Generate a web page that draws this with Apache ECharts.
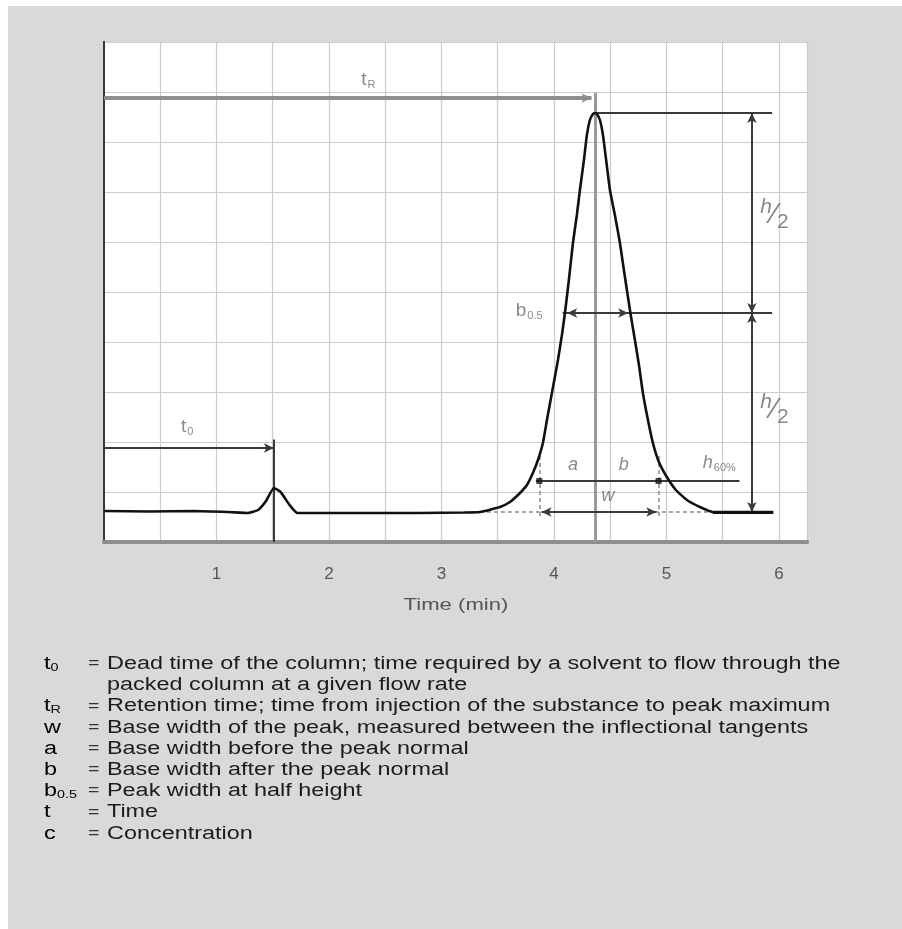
<!DOCTYPE html>
<html>
<head>
<meta charset="utf-8">
<title>Chromatogram parameters</title>
<script src="https://cdn.jsdelivr.net/npm/echarts@6.0.0/dist/echarts.min.js"></script>
<style>
  html, body { margin: 0; padding: 0; background: #ffffff; }
  #chart { width: 902px; height: 929px; }
</style>
</head>
<body>
<div id="chart"></div>
<script>
// Detector trace: time (min) and signal (arbitrary units)
const traceTime   = [0.00, 0.40, 0.80, 1.10, 1.28, 1.37, 1.44, 1.51, 1.57, 1.65, 1.72, 2.20, 2.80, 3.20,
                     3.342, 3.520, 3.609, 3.698, 3.760, 3.813, 3.858, 3.902, 3.938, 3.982, 4.036, 4.071, 4.098,
                     4.133, 4.169, 4.204, 4.231, 4.267, 4.293, 4.320, 4.347, 4.364, 4.382, 4.409, 4.436, 4.462,
                     4.498, 4.542, 4.587, 4.622, 4.680, 4.720, 4.756, 4.791, 4.836, 4.880, 4.933, 5.004, 5.084,
                     5.182, 5.298, 5.413, 5.95];
const traceSignal = [0.62, 0.61, 0.62, 0.60, 0.58, 0.64, 0.82, 1.08, 1.00, 0.74, 0.58, 0.58, 0.58, 0.59,
                     0.60, 0.70, 0.80, 0.98, 1.14, 1.38, 1.64, 1.98, 2.44, 2.98, 3.64, 4.14, 4.58,
                     5.24, 5.98, 6.54, 7.04, 7.64, 8.14, 8.44, 8.56, 8.58, 8.56, 8.44, 8.14, 7.68,
                     7.04, 6.54, 5.98, 5.44, 4.58, 4.04, 3.54, 2.98, 2.44, 1.98, 1.60, 1.30, 1.04,
                     0.84, 0.70, 0.60, 0.60];
const xTickValues = [1, 2, 3, 4, 5, 6];
const xAxisTitle = 'Time (min)';

// Characteristic times and levels of the peak
const deadTime = 1.51;          // t0
const retentionTime = 4.364;    // tR
const baseLevel = 0.60;
const peakLevel = 8.58;
const halfLevel = 4.58;         // baseline + h/2
const halfWidth = [4.098, 4.68]; // b0.5
const tangentLevel = 1.22;      // h 60%
const tangentPoints = [3.87, 4.93];
const peakFoot = [3.342, 5.413];

// Legend rows: symbol, subscript, explanation lines
const legendSymbols = ['t', 't', 'w', 'a', 'b', 'b', 't', 'c'];
const legendSubs    = ['0', 'R', '', '', '', '0.5', '', ''];
const legendTexts   = [
  ['Dead time of the column; time required by a solvent to flow through the', 'packed column at a given flow rate'],
  ['Retention time; time from injection of the substance to peak maximum'],
  ['Base width of the peak, measured between the inflectional tangents'],
  ['Base width before the peak normal'],
  ['Base width after the peak normal'],
  ['Peak width at half height'],
  ['Time'],
  ['Concentration']
];

const FONT = '"Liberation Sans", Arial, Helvetica, sans-serif';
const annoGrey = '#6b6b6b';
const dark = '#2a2a2a';
const WIDE = 1.3;   // horizontal stretch of the printed lettering

const labelRich = {
  t:   { fontFamily: FONT, fontSize: 19, color: annoGrey },
  i:   { fontFamily: FONT, fontSize: 18, fontStyle: 'italic', color: annoGrey },
  sub: { fontFamily: FONT, fontSize: 11, color: annoGrey, padding: [10, 0, 0, 1] },
  sup: { fontFamily: FONT, fontSize: 21, fontStyle: 'italic', color: annoGrey, padding: [0, 0, 14, 0] },
  sl:  { fontFamily: FONT, fontSize: 30, color: annoGrey },
  dn:  { fontFamily: FONT, fontSize: 21, color: annoGrey, padding: [16, 0, 0, 0] }
};

function seg(p1, p2, style, s1, s2, symColor) {
  const ls = Object.assign({ type: 'solid' }, style);
  const base = { lineStyle: ls, itemStyle: { color: symColor || ls.color } };
  return [
    Object.assign({ coord: p1, symbol: s1 || 'none', symbolSize: [7, 10] }, base),
    Object.assign({ coord: p2, symbol: s2 || 'none', symbolSize: [7, 10] }, base)
  ];
}

const thin = { color: '#3a3a3a', width: 2 };
const greyThick = { color: '#8e8e8e', width: 4 };
const dashed = { color: '#8a8a8a', width: 1.5, type: [4, 3] };

const markLines = [
  // dead time t0
  seg([0, 1.88], [deadTime, 1.88], thin, 'none', 'arrow'),
  seg([deadTime, 2.05], [deadTime, 0], thin),
  // retention time tR
  seg([0, 8.88], [retentionTime - 0.03, 8.88], greyThick, 'none', 'arrow', dark),
  seg([retentionTime, 8.98], [retentionTime, 0], { color: '#9a9a9a', width: 3 }),
  // peak height and half height
  seg([retentionTime, peakLevel], [5.94, peakLevel], thin),
  seg([halfWidth[0] - 0.02, halfLevel], [5.94, halfLevel], thin),
  seg([halfWidth[0] + 0.02, halfLevel], [halfWidth[1] - 0.02, halfLevel], thin, 'arrow', 'arrow'),
  seg([5.76, peakLevel], [5.76, halfLevel], thin, 'arrow', 'arrow'),
  seg([5.76, halfLevel], [5.76, baseLevel], thin, 'arrow', 'arrow'),
  // inflection tangents and base width
  seg([tangentPoints[0] - 0.03, tangentLevel], [5.65, tangentLevel], thin),
  seg([tangentPoints[0], 1.72], [tangentPoints[0], 0.5], dashed),
  seg([tangentPoints[1], 1.72], [tangentPoints[1], 0.5], dashed),
  seg([peakFoot[0], baseLevel], [peakFoot[1], baseLevel], dashed),
  seg([tangentPoints[0] + 0.02, baseLevel], [tangentPoints[1] - 0.02, baseLevel], thin, 'arrow', 'arrow'),
  seg([peakFoot[1], baseLevel], [5.95, baseLevel], { color: '#111', width: 3 })
];

const textMarks = [
  { value: [2.35, 9.25], text: '{t|t}{sub|R}' },
  { value: [0.74, 2.30], text: '{t|t}{sub|0}' },
  { value: [3.78, 4.62], text: '{t|b}{sub|0.5}' },
  { value: [5.96, 6.55], text: '{sup|h}{sl|⁄}{dn|2}' },
  { value: [5.96, 2.65], text: '{sup|h}{sl|⁄}{dn|2}' },
  { value: [4.17, 1.55], text: '{i|a}' },
  { value: [4.62, 1.55], text: '{i|b}' },
  { value: [5.47, 1.58], text: '{i|h}{sub|60%}' },
  { value: [4.48, 0.92], text: '{i|w}' }
];

const graphics = [
  { type: 'rect', left: 8, top: 6, z: -10, shape: { width: 894, height: 923 }, style: { fill: '#d9d9d9' } },
  { type: 'text', x: 456, y: 605, scaleX: WIDE, z: 10,
    style: { text: xAxisTitle, fill: '#555', font: '17px ' + FONT, align: 'center', verticalAlign: 'middle' } }
];

// legend block under the chart
const rowGap = 21.2;
const legendTop = 664;
const symRich = {
  s:   { fontFamily: FONT, fontSize: 18, color: '#333' },
  sub: { fontFamily: FONT, fontSize: 11, color: '#333', padding: [8, 0, 0, 0] }
};
let row = 0;
legendSymbols.forEach((sym, k) => {
  const y = legendTop + row * rowGap;
  const symText = legendSubs[k] ? '{s|' + sym + '}{sub|' + legendSubs[k] + '}' : '{s|' + sym + '}';
  graphics.push({ type: 'text', x: 44, y: y, scaleX: WIDE, z: 10,
    style: { text: symText, rich: symRich, verticalAlign: 'middle', align: 'left' } });
  graphics.push({ type: 'text', x: 88, y: y, scaleX: WIDE, z: 10,
    style: { text: '=', fill: '#333', font: '15px ' + FONT, verticalAlign: 'middle' } });
  legendTexts[k].forEach(line => {
    graphics.push({ type: 'text', x: 107, y: legendTop + row * rowGap, scaleX: WIDE, z: 10,
      style: { text: line, fill: '#1c1c1c', font: '18px ' + FONT, verticalAlign: 'middle' } });
    row++;
  });
});

const chart = echarts.init(document.getElementById('chart'));
chart.setOption({
  animation: false,
  backgroundColor: '#ffffff',
  grid: { left: 104, top: 42, width: 703, height: 500, show: true, backgroundColor: '#ffffff', borderWidth: 0 },
  xAxis: [{
    type: 'value', min: 0, max: 6.25, interval: 0.5, position: 'bottom',
    axisLine: { show: true, onZero: false, lineStyle: { color: '#8e8e8e', width: 4 } },
    axisTick: { show: false },
    axisLabel: {
      margin: 24, color: '#555', fontSize: 17, fontFamily: FONT,
      formatter: v => (xTickValues.indexOf(v) >= 0 ? String(v) : '')
    },
    splitLine: { show: true, lineStyle: { color: '#cccccc', width: 1.2 } }
  }, {
    type: 'value', min: 0, max: 6.25, position: 'top',
    axisLine: { show: true, lineStyle: { color: '#8e8e8e', width: 4 } },
    axisTick: { show: false }, axisLabel: { show: false }, splitLine: { show: false }
  }],
  yAxis: [{
    type: 'value', min: 0, max: 10, interval: 1,
    axisLine: { show: true, onZero: false, lineStyle: { color: '#3a3a3a', width: 2 } },
    axisTick: { show: false }, axisLabel: { show: false },
    splitLine: { show: true, lineStyle: { color: '#cccccc', width: 1.2 } }
  }, {
    type: 'value', min: 0, max: 10, position: 'right',
    axisLine: { show: true, lineStyle: { color: '#3a3a3a', width: 2 } },
    axisTick: { show: false }, axisLabel: { show: false }, splitLine: { show: false }
  }],
  series: [{
    name: 'annotations', type: 'line', data: [], silent: true,
    markLine: { silent: true, animation: false, label: { show: false }, symbol: ['none', 'none'], data: markLines }
  }, {
    name: 'trace', type: 'line', z: 5, symbol: 'none', smooth: 0.15,
    lineStyle: { color: '#111', width: 2.6 },
    data: traceTime.map((t, i) => [t, traceSignal[i]])
  }, {
    name: 'tangent points', type: 'scatter', z: 6, symbol: 'rect', symbolSize: 6,
    itemStyle: { color: '#111' },
    data: tangentPoints.map(t => [t, tangentLevel])
  }, {
    name: 'labels', type: 'scatter', z: 7, symbolSize: 0, silent: true,
    data: textMarks.map(m => ({
      value: m.value,
      label: { show: true, position: 'inside', formatter: m.text, rich: labelRich }
    }))
  }],
  graphic: graphics
});
</script>
</body>
</html>
